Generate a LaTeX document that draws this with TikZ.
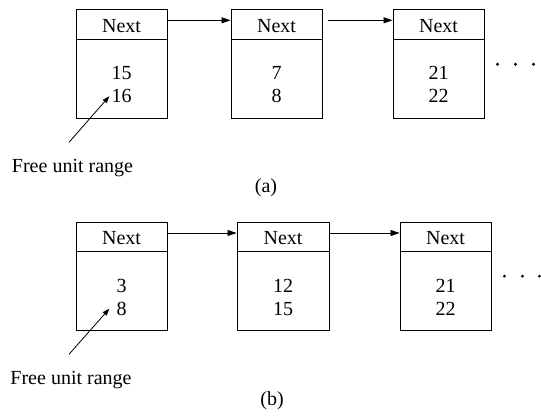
\documentclass[tikz,border=0pt]{standalone}
\usepackage{fontspec}
\setmainfont{Liberation Serif}
\usetikzlibrary{arrows.meta}

% One list cell: #1 name, #2 centre x, #3 top y, #4 width, #5 height,
% #6 first number, #7 second number
\newcommand\listcell[7]{%
  \node[cellbox, minimum width=#4pt, minimum height=#5pt, anchor=north] (#1) at (#2,#3) {};
  \draw[divider] ([yshift=-30pt]#1.north west) -- ([yshift=-30pt]#1.north east);
  \node[txt] (#1-next) at ([yshift=-16.5pt]#1.north) {Next};
  \node[txt] (#1-lo) at ([yshift=-64pt]#1.north) {#6};
  \node[txt] (#1-hi) at ([yshift=-87pt]#1.north) {#7};
}

\begin{document}
\begin{tikzpicture}[x=1pt,y=-1pt,
  cellbox/.style={draw, line width=0.9pt, inner sep=0pt},
  divider/.style={line width=0.9pt},
  txt/.style={font=\fontsize{20}{23}\selectfont, inner sep=2pt},
  link/.style={-{Triangle[length=9pt,width=6pt]}, line width=0.8pt},
  ptr/.style={-{Triangle[length=7pt,width=5pt]}, line width=0.8pt},
  dot/.style={circle, fill, inner sep=0pt, minimum size=3.2pt}]

\useasboundingbox (0,0) rectangle (541,419);

% ---- (a) ----
\listcell{a1}{121.5}{9.3}{91}{109}{15}{16}
\listcell{a2}{276.5}{9.3}{91}{109}{7}{8}
\listcell{a3}{438.5}{9.3}{91}{109}{21}{22}

\draw[link] ([yshift=-11pt]a1.north east) -- ([yshift=-11pt]a2.north west);
\draw[link] ([xshift=6pt,yshift=-11pt]a2.north east) -- ([yshift=-11pt]a3.north west);

\node[dot] (a-d1) at ([xshift=13pt]a3.east) {};
\node[dot] (a-d2) at ([xshift=31pt]a3.east) {};
\node[dot] (a-d3) at ([xshift=49pt]a3.east) {};

\node[txt, anchor=base] (a-free) at (72.5,172.5) {Free unit range};
\draw[ptr] ([xshift=-3.5pt,yshift=14.7pt]a-free.north) -- (a1-hi.west);
\node[txt, anchor=base] (a-cap) at (266,193) {(a)};

% ---- (b) ----
\listcell{b1}{121.5}{221.7}{91}{108}{3}{8}
\listcell{b2}{283}{221.7}{92}{108}{12}{15}
\listcell{b3}{445.5}{221.7}{91}{108}{21}{22}

\draw[link] ([yshift=-11.3pt]b1.north east) -- ([yshift=-11.3pt]b2.north west);
\draw[link] ([yshift=-11.3pt]b2.north east) -- ([yshift=-11.3pt]b3.north west);

\node[dot] (b-d1) at ([xshift=13pt]b3.east) {};
\node[dot] (b-d2) at ([xshift=31pt]b3.east) {};
\node[dot] (b-d3) at ([xshift=48pt]b3.east) {};

\node[txt, anchor=base] (b-free) at (71,384.5) {Free unit range};
\draw[ptr] ([xshift=-2pt,yshift=14.7pt]b-free.north) -- ([xshift=-5pt]b1-hi.west);
\node[txt, anchor=base] (b-cap) at (272,405.5) {(b)};

\end{tikzpicture}
\end{document}
